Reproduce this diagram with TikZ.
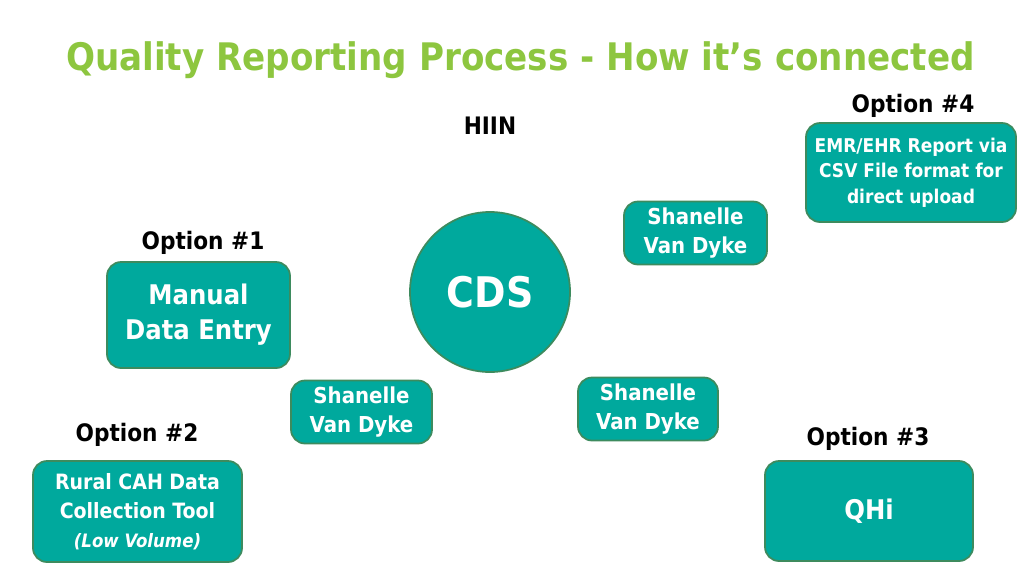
\documentclass[tikz,border=0pt]{standalone}
\usepackage{fontspec}
\setmainfont{DejaVu Sans Condensed}
\usetikzlibrary{arrows.meta}
\definecolor{titlegreen}{HTML}{8DC63F}
\definecolor{teal}{HTML}{00A99D}
\definecolor{tealedge}{HTML}{3D8B5E}
\definecolor{arrowgreen}{HTML}{8DC63F}
\tikzset{
  box/.style={draw=tealedge, line width=1pt, fill=teal, rounded corners=8pt, text=white, align=center, font=\bfseries},
  optlabel/.style={font=\fontsize{13.7}{16}\selectfont\bfseries, text=black},
  blk/.style={draw=none, line width=11pt, arrowgreen, -{Triangle[length=13pt,width=22pt]}},
}
\begin{document}
\begin{tikzpicture}[x=0.02cm,y=-0.02cm]
\useasboundingbox (0,0) rectangle (1024,576);
\fill[white] (0,0) rectangle (1024,576);
\node[text=titlegreen, font=\fontsize{21.6}{26}\selectfont\bfseries, anchor=west] (title) at (60,60) {Quality Reporting Process - How it’s connected};

% CDS
\node[circle, draw=tealedge, line width=1pt, fill=teal, minimum size=160*0.02cm, text=white, font=\fontsize{24}{28}\selectfont\bfseries] (cds) at (490,292) {CDS};
\node[optlabel] (hiin) at (490,126) {HIIN};

% boxes
\node[box, minimum width=183*0.02cm, minimum height=106*0.02cm, font=\fontsize{15.4}{20}\selectfont\bfseries] (manual) at (198.5,315) {Manual\\Data Entry};
\node[optlabel] (opt1) at (203,243) {Option \#1};

\node[box, minimum width=210*0.02cm, minimum height=99*0.02cm, font=\fontsize{10.8}{14.5}\selectfont\bfseries] (emr) at (911,172.5) {EMR/EHR Report via\\CSV File format for\\direct upload};
\node[optlabel] (opt4) at (913,106) {Option \#4};

\node[box, minimum width=143*0.02cm, minimum height=62*0.02cm, font=\fontsize{12.5}{17}\selectfont\bfseries] (sv1) at (695.5,233) {Shanelle\\Van Dyke};
\node[box, minimum width=141*0.02cm, minimum height=62*0.02cm, font=\fontsize{12.5}{17}\selectfont\bfseries] (sv2) at (361.5,412) {Shanelle\\Van Dyke};
\node[box, minimum width=140*0.02cm, minimum height=62*0.02cm, font=\fontsize{12.5}{17}\selectfont\bfseries] (sv3) at (648,409) {Shanelle\\Van Dyke};

\node[box, minimum width=209*0.02cm, minimum height=101*0.02cm, font=\fontsize{12}{16.5}\selectfont\bfseries] (rural) at (137.5,511.5) {Rural CAH Data\\Collection Tool\\{\fontsize{10.5}{14}\selectfont\bfseries\itshape (Low Volume)}};
\node[optlabel] (opt2) at (137,435) {Option \#2};

\node[box, minimum width=208*0.02cm, minimum height=100*0.02cm, font=\fontsize{15.4}{20}\selectfont\bfseries] (qhi) at (869,511) {QHi};
\node[optlabel] (opt3) at (868,439) {Option \#3};

% arrows
\coordinate (a1s) at (303,293); \coordinate (a1e) at (392,293);
\draw[blk, line width=15pt, -{Triangle[length=16pt,width=27pt]}] (a1s) -- (a1e);
\coordinate (h1s) at (490,206); \coordinate (h1e) at (490,150);
\draw[blk] (h1s) -- (h1e);
\coordinate (e1s) at (801,175); \coordinate (e1e) at (758,197);
\draw[blk] (e1s) -- (e1e);
\coordinate (s1s) at (617,226); \coordinate (s1e) at (571,262);
\draw[blk] (s1s) -- (s1e);
\coordinate (s2s) at (380,373); \coordinate (s2e) at (428,338);
\draw[blk] (s2s) -- (s2e);
\coordinate (r1s) at (250,474); \coordinate (r1e) at (291,440);
\draw[blk] (r1s) -- (r1e);
\coordinate (s3s) at (600,373); \coordinate (s3e) at (561,334);
\draw[blk] (s3s) -- (s3e);
\coordinate (q1s) at (762,474); \coordinate (q1e) at (721,437);
\draw[blk] (q1s) -- (q1e);
\end{tikzpicture}
\end{document}
